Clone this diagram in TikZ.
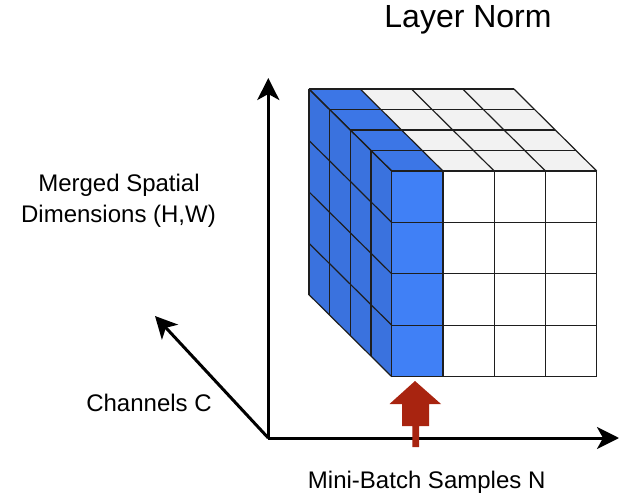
\documentclass[tikz,border=0pt]{standalone}
\usepackage{fontspec}
\setmainfont{Liberation Sans}
\usetikzlibrary{arrows.meta,calc}
\definecolor{frontblue}{RGB}{64,128,246}
\definecolor{sideblue}{RGB}{58,114,222}
\definecolor{topblue}{RGB}{60,118,230}
\definecolor{topgrey}{RGB}{242,242,242}
\definecolor{gridline}{RGB}{30,30,30}
\definecolor{arrowred}{RGB}{168,36,16}
\tikzset{
  axis/.style={line width=3pt, -{Stealth[length=22pt,width=22pt,inset=6pt]}},
  gridl/.style={draw=gridline, line width=1.2pt, line join=round},
  lbl/.style={font=\fontsize{24}{30}\selectfont, anchor=base, inner sep=0pt},
  ttl/.style={font=\fontsize{32}{38}\selectfont, anchor=base, inner sep=0pt}
}
\begin{document}
\begin{tikzpicture}[x=1pt,y=-1pt]
\useasboundingbox (0,0) rectangle (634,494);
% axes
\coordinate (O) at (268.3,438);
\coordinate (Ytip) at (268.3,78);
\coordinate (Xtip) at (619,438);
\coordinate (Ctip) at (155,316);
\draw[axis] (O) -- (Ytip);
\draw[axis] (O) -- (Xtip);
\draw[axis] (O) -- (Ctip);
% cube geometry
\def\xo{391.7}\def\yo{171}\def\cw{51.25}\def\ch{51.4}
\def\ddx{-20.7}\def\ddy{-20.5}
\coordinate (F00) at (\xo,\yo);
\coordinate (F10) at (\xo+\cw,\yo);
\coordinate (F40) at (\xo+4*\cw,\yo);
\coordinate (F04) at (\xo,\yo+4*\ch);
\coordinate (F14) at (\xo+\cw,\yo+4*\ch);
\coordinate (F44) at (\xo+4*\cw,\yo+4*\ch);
\coordinate (D) at (4*\ddx,4*\ddy);
% fills
\fill[frontblue] (F00) rectangle (F14);
\fill[white] (F10) rectangle (F44);
\fill[topgrey] (F10) -- (F40) -- ($(F40)+(D)$) -- ($(F10)+(D)$) -- cycle;
\fill[topblue] (F00) -- (F10) -- ($(F10)+(D)$) -- ($(F00)+(D)$) -- cycle;
\fill[sideblue] (F00) -- (F04) -- ($(F04)+(D)$) -- ($(F00)+(D)$) -- cycle;
% front grid
\foreach \i in {0,...,4}{
  \draw[gridl] (\xo+\i*\cw,\yo) -- (\xo+\i*\cw,\yo+4*\ch);
  \draw[gridl] (\xo,\yo+\i*\ch) -- (\xo+4*\cw,\yo+\i*\ch);
}
% top grid
\foreach \k in {0,...,4}{
  \draw[gridl] (\xo+\k*\ddx,\yo+\k*\ddy) -- (\xo+4*\cw+\k*\ddx,\yo+\k*\ddy);
  \draw[gridl] (\xo+\k*\cw,\yo) -- (\xo+\k*\cw+4*\ddx,\yo+4*\ddy);
}
% left grid
\foreach \k in {0,...,4}{
  \draw[gridl] (\xo+\k*\ddx,\yo+\k*\ddy) -- (\xo+\k*\ddx,\yo+4*\ch+\k*\ddy);
  \draw[gridl] (\xo,\yo+\k*\ch) -- (\xo+4*\ddx,\yo+\k*\ch+4*\ddy);
}
% red arrow
\fill[arrowred] (415,381) -- (441,404) -- (429,404) -- (429,426) -- (419,426) -- (419,447)
  -- (412.3,447) -- (412.3,426) -- (402,426) -- (402,404) -- (389.5,404) -- cycle;
% labels
\node[ttl] (title) at (468,28) {Layer Norm};
\node[lbl] (msd1) at (119,191.7) {Merged Spatial};
\node[lbl] (msd2) at (118.5,223) {Dimensions (H,W)};
\node[lbl] (ch) at (149,411.7) {Channels C};
\node[lbl] (mb) at (426.7,488) {Mini-Batch Samples N};
\end{tikzpicture}
\end{document}
